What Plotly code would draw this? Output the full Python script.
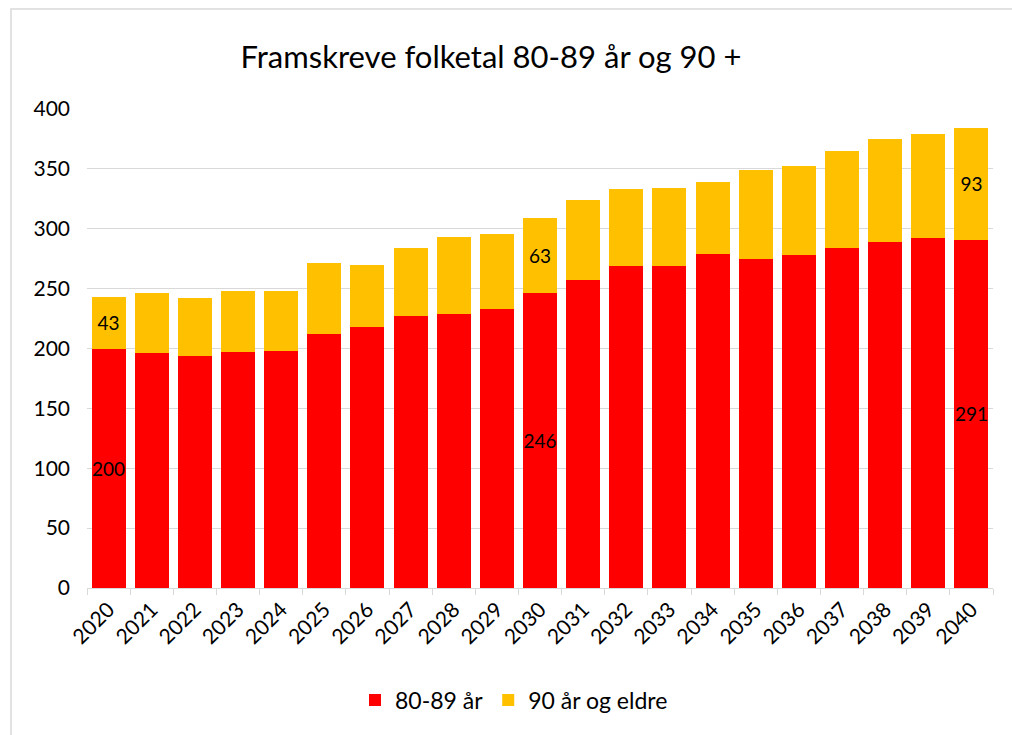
import plotly.graph_objects as go

years = [str(y) for y in range(2020, 2041)]
age_80_89 = [200, 196, 194, 197, 198, 212, 218, 227, 229, 233, 246,
             257, 269, 269, 279, 275, 278, 284, 289, 292, 291]
age_90_plus = [43, 50, 48, 51, 50, 59, 52, 57, 64, 63, 63,
               67, 64, 65, 60, 74, 74, 81, 86, 87, 93]
label_years = {"2020", "2030", "2040"}

title = "Framskreve folketal 80-89 år og 90 +"
names = ["80-89 år", "90 år og eldre"]
colors = ["#FF0000", "#FFC000"]

FONT = "Lato"
L, R, T, B = 87, 19, 109, 147
W, H = 1012, 735
PW, PH = W - L - R, H - T - B

fig = go.Figure()
for name, vals, col in zip(names, [age_80_89, age_90_plus], colors):
    fig.add_trace(go.Bar(
        x=years, y=vals, name=name,
        marker=dict(color=col, line=dict(width=0)),
        text=[str(v) if yr in label_years else "" for yr, v in zip(years, vals)],
        textposition="inside", insidetextanchor="middle", textangle=0,
        textfont=dict(family=FONT, size=19, color="black"),
        hoverinfo="x+y+name",
    ))

fig.update_layout(
    barmode="stack", bargap=0.21,
    width=W, height=H,
    margin=dict(l=L, r=R, t=T, b=B),
    paper_bgcolor="white", plot_bgcolor="white",
    font=dict(family=FONT, size=20, color="black"),
    title=dict(text=title, x=491 / W, xref="container", xanchor="center",
               y=1 - 57 / H, yref="container", yanchor="middle",
               font=dict(family=FONT, size=31, color="black")),
    uniformtext=dict(mode="show", minsize=19),
    legend=dict(orientation="h", x=(514 - L) / PW, xanchor="center",
                y=(588 - 700) / PH, yanchor="middle",
                font=dict(family=FONT, size=23), traceorder="normal"),
    shapes=[dict(type="rect", xref="paper", yref="paper",
                 x0=(11 - L) / PW, x1=(1040 - L) / PW,
                 y0=(588 - 760) / PH, y1=(588 - 9) / PH,
                 line=dict(color="#d9d9d9", width=1.5), fillcolor="rgba(0,0,0,0)",
                 layer="below")],
)
fig.update_yaxes(range=[0, 400], dtick=50, showgrid=True, gridcolor="#d9d9d9",
                 gridwidth=1, zeroline=False, showline=False,
                 tickfont=dict(family=FONT, size=21), ticklabelstandoff=16)
fig.update_xaxes(type="category", showline=True, linecolor="#d9d9d9", linewidth=1,
                 ticks="outside", tickson="boundaries", ticklen=6, tickcolor="#d9d9d9",
                 tickangle=-45, tickfont=dict(family=FONT, size=21))

fig.write_html("out.html", config={"displayModeBar": False},
               post_script="document.body.style.margin='0';")
